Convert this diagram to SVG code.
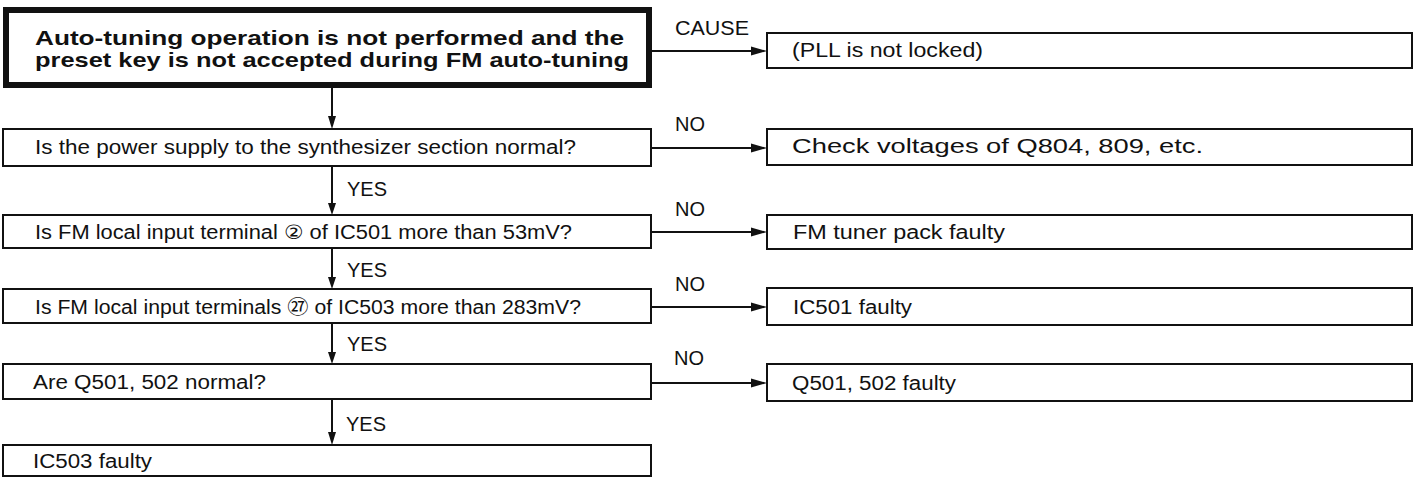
<svg xmlns="http://www.w3.org/2000/svg" width="1422" height="477" viewBox="0 0 1422 477">
<style>
.bg{fill:#fff}
.box{fill:#fff;stroke:#111;stroke-width:2}
.title{fill:#fff;stroke:#111;stroke-width:6}
.t{font-family:"Liberation Sans","DejaVu Sans","Noto Sans CJK JP",sans-serif;font-size:19.5px;fill:#111}
.tb{font-family:"Liberation Sans","DejaVu Sans",sans-serif;font-size:21px;font-weight:bold;fill:#111}
.ln{stroke:#111;stroke-width:2;fill:none}
.ah{fill:#111;stroke:none}
</style>
<rect class="bg" x="0" y="0" width="1422" height="477"/>
<g id="title">
<rect class="title" x="6" y="10" width="643" height="75"/>
<text class="tb" x="35" y="45" textLength="589" lengthAdjust="spacingAndGlyphs">Auto-tuning operation is not performed and the</text>
<text class="tb" x="35" y="67" textLength="594" lengthAdjust="spacingAndGlyphs">preset key is not accepted during FM auto-tuning</text>
</g>
<g id="cause">
<rect class="box" x="767" y="33" width="645" height="35"/>
<text class="t" x="792" y="57" textLength="191" lengthAdjust="spacingAndGlyphs">(PLL is not locked)</text>
</g>
<g id="q1">
<rect class="box" x="3" y="129" width="648" height="37"/>
<text class="t" x="35" y="154" textLength="541" lengthAdjust="spacingAndGlyphs">Is the power supply to the synthesizer section normal?</text>
</g>
<g id="r1">
<rect class="box" x="767" y="129" width="645" height="36"/>
<text class="t" x="792" y="153" textLength="411" lengthAdjust="spacingAndGlyphs">Check voltages of Q804, 809, etc.</text>
</g>
<g id="q2">
<rect class="box" x="3" y="215" width="648" height="33"/>
<text class="t" x="35" y="239" textLength="537" lengthAdjust="spacingAndGlyphs">Is FM local input terminal ② of IC501 more than 53mV?</text>
</g>
<g id="r2">
<rect class="box" x="767" y="215" width="645" height="34"/>
<text class="t" x="793" y="239" textLength="212" lengthAdjust="spacingAndGlyphs">FM tuner pack faulty</text>
</g>
<g id="q3">
<rect class="box" x="3" y="289" width="648" height="34"/>
<text class="t" x="35" y="314" textLength="546" lengthAdjust="spacingAndGlyphs">Is FM local input terminals ㉗ of IC503 more than 283mV?</text>
</g>
<g id="r3">
<rect class="box" x="767" y="288" width="645" height="37"/>
<text class="t" x="793" y="314" textLength="119" lengthAdjust="spacingAndGlyphs">IC501 faulty</text>
</g>
<g id="q4">
<rect class="box" x="3" y="364" width="648" height="35"/>
<text class="t" x="33" y="389" textLength="233" lengthAdjust="spacingAndGlyphs">Are Q501, 502 normal?</text>
</g>
<g id="r4">
<rect class="box" x="767" y="364" width="645" height="37"/>
<text class="t" x="792" y="390" textLength="164" lengthAdjust="spacingAndGlyphs">Q501, 502 faulty</text>
</g>
<g id="end">
<rect class="box" x="3" y="445" width="648" height="31"/>
<text class="t" x="33" y="468" textLength="119" lengthAdjust="spacingAndGlyphs">IC503 faulty</text>
</g>
<g id="connectors">
<path class="ln" d="M332 88V118M332 166V205M332 248V279M332 323V354M332 399V434"/>
<polygon class="ah" points="328,116 336,116 332,129"/>
<polygon class="ah" points="328,203 336,203 332,215"/>
<polygon class="ah" points="328,277 336,277 332,289"/>
<polygon class="ah" points="328,352 336,352 332,364"/>
<polygon class="ah" points="328,432 336,432 332,445"/>
<path class="ln" d="M652 51H755M651 148H755M651 232H755M651 307H755M651 383H755"/>
<polygon class="ah" points="751,46.5 751,55.5 767,51"/>
<polygon class="ah" points="751,143.5 751,152.5 767,148"/>
<polygon class="ah" points="751,227.5 751,236.5 767,232"/>
<polygon class="ah" points="751,302.5 751,311.5 767,307"/>
<polygon class="ah" points="751,378.5 751,387.5 767,383"/>
<text class="t" x="675" y="35" textLength="74" lengthAdjust="spacingAndGlyphs">CAUSE</text>
<text class="t" x="675" y="131" textLength="30" lengthAdjust="spacingAndGlyphs">NO</text>
<text class="t" x="675" y="216" textLength="30" lengthAdjust="spacingAndGlyphs">NO</text>
<text class="t" x="675" y="291" textLength="30" lengthAdjust="spacingAndGlyphs">NO</text>
<text class="t" x="674" y="365" textLength="30" lengthAdjust="spacingAndGlyphs">NO</text>
<text class="t" x="347" y="196" textLength="40" lengthAdjust="spacingAndGlyphs">YES</text>
<text class="t" x="347" y="277" textLength="40" lengthAdjust="spacingAndGlyphs">YES</text>
<text class="t" x="347" y="351" textLength="40" lengthAdjust="spacingAndGlyphs">YES</text>
<text class="t" x="346" y="431" textLength="40" lengthAdjust="spacingAndGlyphs">YES</text>
</g>
</svg>
